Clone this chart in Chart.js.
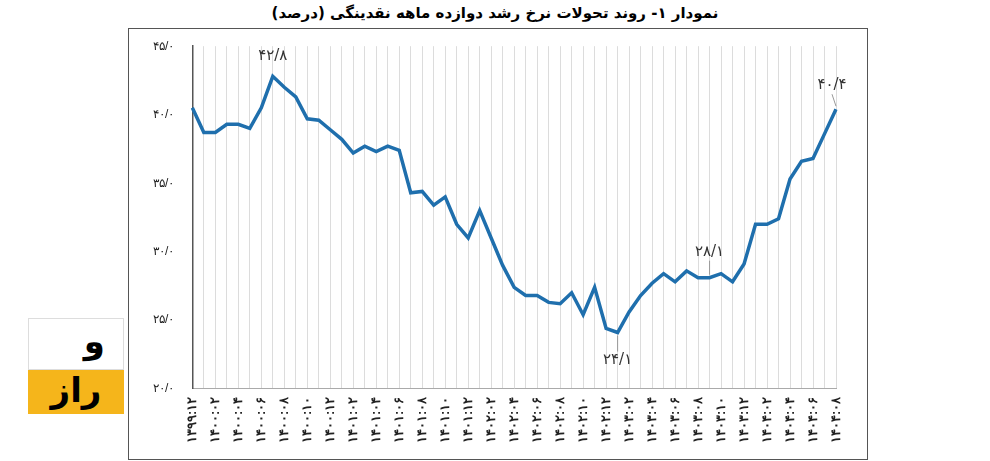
<!DOCTYPE html>
<html>
<head>
<meta charset="utf-8">
<script src="https://cdn.jsdelivr.net/npm/chart.js@4/dist/chart.umd.min.js"></script>
<style>
  body { margin: 0; background: #fff; width: 990px; height: 461px; position: relative; overflow: hidden; font-family: "DejaVu Sans", sans-serif; }
  #title { position: absolute; top: 4px; left: 0; width: 990px; text-align: center; font-size: 15px; font-weight: bold; direction: rtl; }
  #box { position: absolute; left: 128px; top: 28px; width: 740px; height: 432px; border: 1px solid #555; box-sizing: border-box; }
  #logo { position: absolute; left: 28px; top: 318px; width: 96px; height: 94px; }
</style>
</head>
<body>
<div id="title">نمودار ۱- روند تحولات نرخ رشد دوازده ماهه نقدینگی (درصد)</div>
<div id="logo">
  <div style="height:50px;border:1px solid #ddd;text-align:right;font-size:34px;font-weight:bold;line-height:44px;padding-right:18px">و</div>
  <div style="height:44px;background:#f5b51b;text-align:center;font-size:34px;font-weight:bold;line-height:40px">راز</div>
</div>
<div id="box"><canvas id="growthChart"></canvas></div>
<script>
const toFa = s => String(s).replace(/\d/g, d => '۰۱۲۳۴۵۶۷۸۹'[d]);

const months = [];
months.push('1399:12');
for (let y = 1400; y <= 1404; y++) {
    const last = y === 1404 ? 8 : 12;
    for (let m = 1; m <= last; m++) months.push(y + ':' + String(m).padStart(2, '0'));
}

const growthRate = [
    40.5, 38.7, 38.7, 39.3, 39.3, 39.0, 40.5, 42.8, 42.0, 41.3,
    39.7, 39.6, 38.9, 38.2, 37.2, 37.7, 37.3, 37.7, 37.4, 34.3,
    34.4, 33.4, 34.0, 32.0, 31.0, 33.0, 31.0, 29.0, 27.4, 26.8,
    26.8, 26.3, 26.2, 27.0, 25.4, 27.4, 24.4, 24.1, 25.6, 26.8,
    27.7, 28.4, 27.8, 28.6, 28.1, 28.1, 28.4, 27.8, 29.1, 32.0,
    32.0, 32.4, 35.3, 36.6, 36.8, 38.6, 40.4
];

// index, label, dx, dy
const callouts = [
    [7, '۴۲/۸', 0, -20],
    [37, '۲۴/۱', 0, 28],
    [45, '۲۸/۱', 0, -26],
    [56, '۴۰/۴', -4, -24]
];

const calloutPlugin = {
    id: 'callouts',
    afterDatasetsDraw(chart) {
        const ctx = chart.ctx;
        const xs = chart.scales.x, ys = chart.scales.y;
        ctx.save();
        ctx.font = '15px "DejaVu Sans"';
        ctx.fillStyle = '#333';
        ctx.strokeStyle = '#999';
        ctx.textAlign = 'center';
        ctx.textBaseline = 'middle';
        callouts.forEach(([i, txt, dx, dy]) => {
            const px = xs.getPixelForValue(i), py = ys.getPixelForValue(growthRate[i]);
            if (i !== 7) {
                ctx.beginPath();
                ctx.moveTo(px, py + Math.sign(dy) * 3);
                ctx.lineTo(px + dx, py + dy - Math.sign(dy) * 9);
                ctx.stroke();
            }
            ctx.fillText(txt, px + dx, py + dy);
        });
        ctx.restore();
    }
};

new Chart(document.getElementById('growthChart'), {
    type: 'line',
    data: {
        labels: months,
        datasets: [{
            data: growthRate,
            borderColor: '#1f6fad',
            borderWidth: 3.5,
            pointRadius: 0,
            tension: 0
        }]
    },
    options: {
        responsive: true,
        maintainAspectRatio: false,
        animation: false,
        layout: { padding: { top: 12, right: 31, left: 14, bottom: 8 } },
        plugins: { legend: { display: false }, tooltip: { enabled: false } },
        scales: {
            x: {
                grid: { color: '#dcdcdc', drawTicks: false },
                border: { color: '#aaa' },
                ticks: {
                    autoSkip: false, minRotation: 90, maxRotation: 90, padding: 8,
                    color: '#222', font: { size: 13, weight: 'bold' },
                    callback: (v, i) => i % 2 === 0 ? toFa(months[i]) : ''
                }
            },
            y: {
                min: 20, max: 45,
                grid: { display: false },
                border: { color: '#555', width: 1.5 },
                ticks: {
                    stepSize: 5, padding: 10, color: '#222', font: { size: 12 },
                    callback: v => toFa(v) + '/۰'
                }
            }
        }
    },
    plugins: [calloutPlugin]
});
</script>
</body>
</html>
